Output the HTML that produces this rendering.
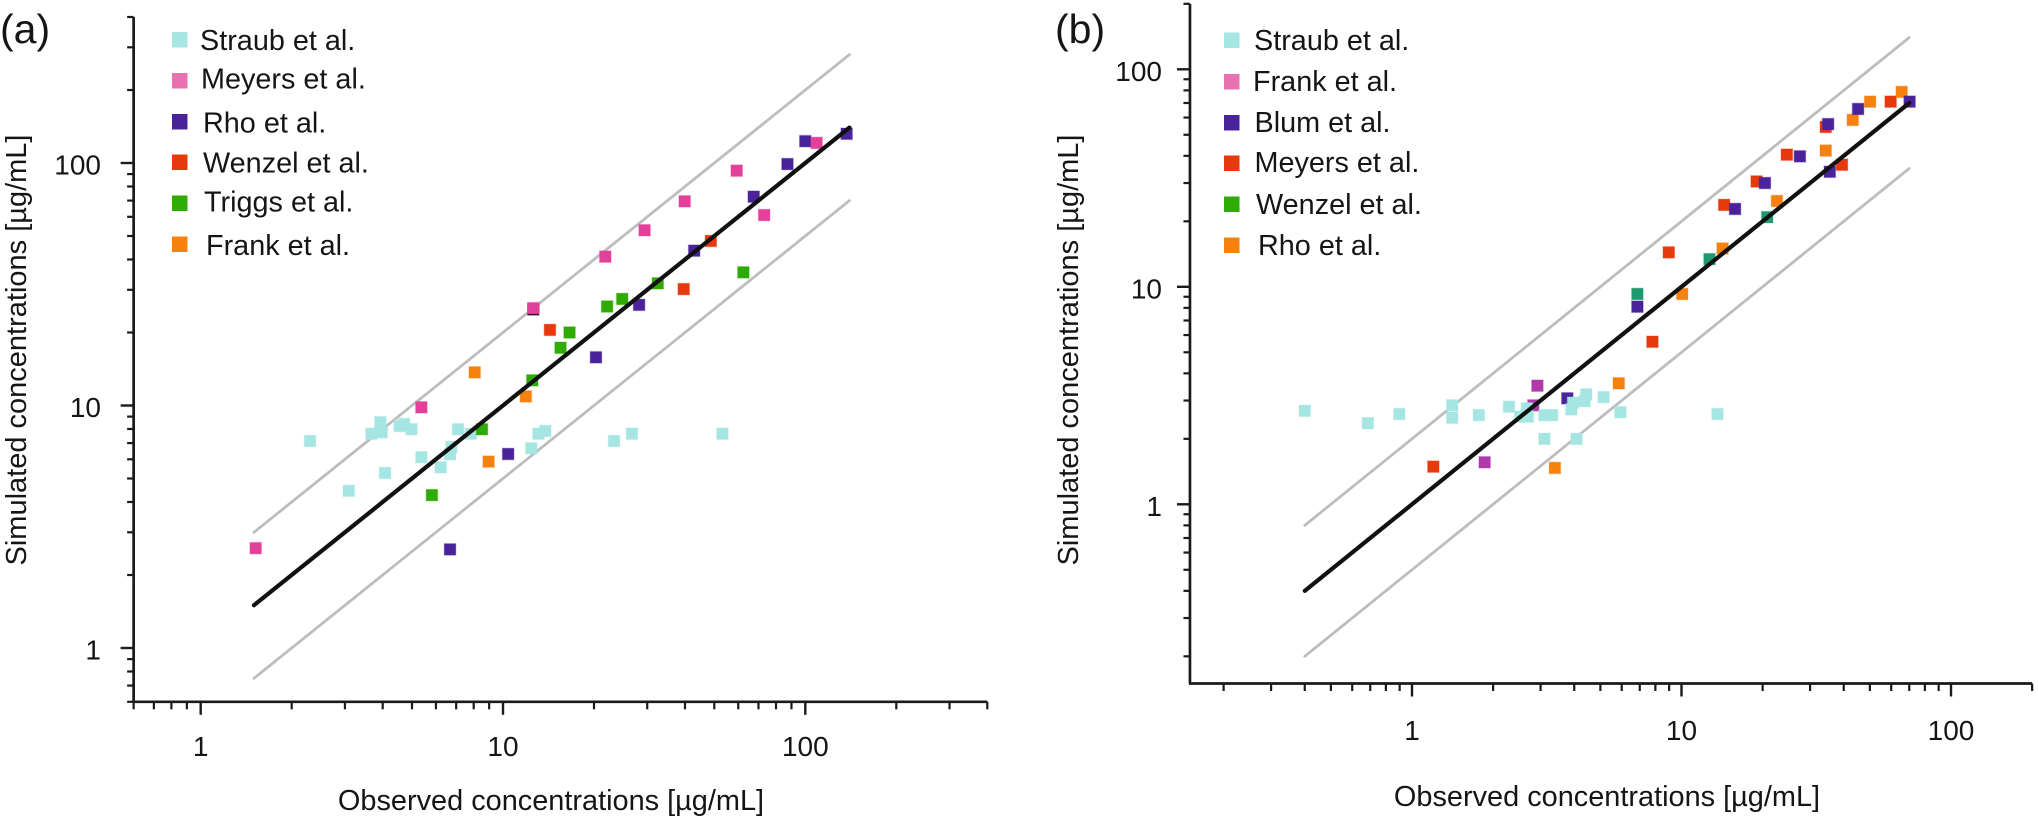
<!DOCTYPE html>
<html lang="en">
<head>
<meta charset="utf-8">
<title>Simulated vs observed concentrations</title>
<style>
html,body{margin:0;padding:0;background:#fff;}
svg{display:block;}
text{font-family:"Liberation Sans",Arial,sans-serif;fill:#151515;}
</style>
</head>
<body>
<svg id="chart" xmlns="http://www.w3.org/2000/svg" width="2038" height="820" viewBox="0 0 2038 820">
  <rect width="2038" height="820" fill="#ffffff"/>
  <g id="panel-a">
    <text x="0" y="43" font-size="41">(a)</text>
    <text x="551" y="810" font-size="28.9" text-anchor="middle">Observed concentrations [µg/mL]</text>
    <text transform="translate(26,350) rotate(-90)" font-size="29" text-anchor="middle">Simulated concentrations [µg/mL]</text>
    <g font-size="28.8">
      <rect x="172" y="32" width="15.5" height="15.5" fill="#a5e6e3"/>
      <text x="200" y="50">Straub et al.</text>
      <rect x="172" y="73" width="15.5" height="15.5" fill="#e871b1"/>
      <text x="201" y="88.5">Meyers et al.</text>
      <rect x="172" y="114" width="15.5" height="15.5" fill="#4a239b"/>
      <text x="203" y="132.5">Rho et al.</text>
      <rect x="172" y="154.5" width="15.5" height="15.5" fill="#e6390e"/>
      <text x="203" y="172.5">Wenzel et al.</text>
      <rect x="172" y="195.5" width="15.5" height="15.5" fill="#2fab05"/>
      <text x="204" y="211.5">Triggs et al.</text>
      <rect x="172" y="236.5" width="15.5" height="15.5" fill="#f5820f"/>
      <text x="206" y="255">Frank et al.</text>
    </g>
  </g>
  <g id="panel-b">
    <text x="1055" y="43" font-size="41">(b)</text>
    <text x="1607" y="806" font-size="28.9" text-anchor="middle">Observed concentrations [µg/mL]</text>
    <text transform="translate(1078,350) rotate(-90)" font-size="29" text-anchor="middle">Simulated concentrations [µg/mL]</text>
    <g font-size="28.8">
      <rect x="1224" y="32.5" width="15.5" height="15.5" fill="#a5e6e3"/>
      <text x="1254" y="50">Straub et al.</text>
      <rect x="1224" y="74" width="15.5" height="15.5" fill="#e871b1"/>
      <text x="1253" y="91">Frank et al.</text>
      <rect x="1224" y="115" width="15.5" height="15.5" fill="#4a239b"/>
      <text x="1254.5" y="132">Blum et al.</text>
      <rect x="1224" y="155.5" width="15.5" height="15.5" fill="#e6390e"/>
      <text x="1254.5" y="172">Meyers et al.</text>
      <rect x="1224" y="196.5" width="15.5" height="15.5" fill="#2fab05"/>
      <text x="1256" y="214">Wenzel et al.</text>
      <rect x="1224" y="237.5" width="15.5" height="15.5" fill="#f5820f"/>
      <text x="1258" y="255">Rho et al.</text>
    </g>
  </g>
</svg>
<script>
// ---- Panel (a) data ----
const aStraubObs = [2.30,3.93,3.97,3.67,4.55,4.71,4.98,7.10,7.83,6.75,6.68,5.37,6.22,4.07,3.09,12.4,13.1,13.8,23.3,26.7,53.2];
const aStraubSim = [7.14,8.53,7.75,7.65,8.23,8.39,7.98,7.98,7.65,6.75,6.29,6.12,5.56,5.27,4.45,6.66,7.65,7.85,7.14,7.65,7.65];
const aHiddenObs = [12.6];
const aHiddenSim = [24.9];
const aMeyersObs = [1.52,5.37,12.6,21.8,29.4,39.9,59.3,73.1,109];
const aMeyersSim = [2.58,9.83,25.2,41.1,52.8,69.5,93,61,121];
const aRhoObs = [6.68,10.4,20.3,28.2,42.9,67.5,87.3,100,137];
const aRhoSim = [2.55,6.31,15.8,26.0,43.5,72.6,99,123,132];
const aWenzelObs = [14.3,39.6,48.7];
const aWenzelSim = [20.5,30.2,47.7];
const aTriggsObs = [5.82,8.52,12.5,15.5,16.6,22.1,24.8,32.5,62.4];
const aTriggsSim = [4.27,7.98,12.7,17.3,20.0,25.6,27.5,31.9,35.4];
const aFrankObs = [8.06,8.96,11.9];
const aFrankSim = [13.7,5.87,10.9];
const aFitObs = [1.5,140];
const aUpperSim = [3,280];
const aFitSim = [1.5,140];
const aLowerSim = [0.75,70];
const aXDomain = [0.6,400];
const aYDomain = [0.6,400];
const aMajorTicks = [1,10,100];
const aMajorLabels = ['1','10','100'];
const aXMinorTicks = [0.6,0.7,0.8,0.9,2,3,4,5,6,7,8,9,20,30,40,50,60,70,80,90,200,300,400];
const aYMinorTicks = [0.6,0.7,0.8,0.9,2,3,4,5,6,7,8,9,20,30,40,50,60,70,80,90,200,300,400];

// ---- Panel (b) data ----
const bStraubObs = [0.40,0.686,0.897,1.41,1.41,1.77,2.29,2.52,2.67,2.69,3.10,3.31,3.10,4.08,3.90,3.96,4.37,4.43,5.14,5.93,13.6];
const bStraubSim = [2.69,2.36,2.60,2.85,2.50,2.57,2.81,2.53,2.76,2.53,2.57,2.57,2.00,2.00,2.73,2.93,2.98,3.20,3.11,2.65,2.60];
const bFrankObs = [2.92,2.82,1.86];
const bFrankSim = [3.51,2.85,1.56];
const bBlumObs = [3.77,6.86,15.8,20.4,27.5,35.5,35.0,45.2,70.2];
const bBlumSim = [3.07,8.10,22.8,30.0,39.8,33.8,56.0,65.7,71.0];
const bMeyersObs = [1.20,7.80,8.97,14.4,19.0,24.6,34.3,39.4,59.7];
const bMeyersSim = [1.49,5.59,14.4,23.8,30.5,40.5,54.3,36.4,71.0];
const bWenzelObs = [6.86,12.7,20.8];
const bWenzelSim = [9.27,13.4,20.9];
const bRhoObs = [3.39,5.85,10.06,14.2,22.6,34.3,43.2,50.1,65.6];
const bRhoSim = [1.47,3.60,9.27,15.0,24.8,42.3,58.5,71.0,78.7];
const bFitObs = [0.4,70];
const bUpperSim = [0.8,140];
const bFitSim = [0.4,70];
const bLowerSim = [0.2,35];
const bXDomain = [0.15,200];
const bYDomain = [0.15,200];
const bMajorTicks = [1,10,100];
const bMajorLabels = ['1','10','100'];
const bXMinorTicks = [0.2,0.3,0.4,0.5,0.6,0.7,0.8,0.9,2,3,4,5,6,7,8,9,20,30,40,50,60,70,80,90,200];
const bYMinorTicks = [0.2,0.3,0.4,0.5,0.6,0.7,0.8,0.9,2,3,4,5,6,7,8,9,20,30,40,50,60,70,80,90,200];

const NS = 'http://www.w3.org/2000/svg';
const AXIS = '#1a1a1a';

function make(parent, tag, props, txt) {
  const el = document.createElementNS(NS, tag);
  for (const k in props) el.setAttribute(k, props[k]);
  if (txt !== undefined) el.textContent = txt;
  parent.appendChild(el);
  return el;
}

function logScale(oneAt, perDecade, sign) {
  return function (v) { return oneAt + sign * perDecade * Math.log10(v); };
}

function drawAxes(group, prefix, sx, sy, xDom, yDom, majors, labels, xMinors, yMinors, xLabelBase, yLabelRight) {
  const xLeft = sx(xDom[0]), xRight = sx(xDom[1]);
  const yBottom = sy(yDom[0]), yTop = sy(yDom[1]);
  const xLine = make(group, 'line', {x1: xLeft - 1, x2: xRight, y1: yBottom, y2: yBottom, stroke: AXIS, 'stroke-width': 2.7});
  
  
  const yLine = make(group, 'line', {x1: xLeft, x2: xLeft, y1: yBottom, y2: yTop, stroke: AXIS, 'stroke-width': 2.7});
  
  

  xMinors.forEach(function (v) {
    const t = make(group, 'line', {x1: sx(v), x2: sx(v), y1: yBottom, y2: yBottom + 7.5, stroke: AXIS, 'stroke-width': 2.2});
    
    
  });
  yMinors.forEach(function (v) {
    const t = make(group, 'line', {x1: xLeft - 6.5, x2: xLeft, y1: sy(v), y2: sy(v), stroke: AXIS, 'stroke-width': 2.2});
    
    
  });
  majors.forEach(function (v, i) {
    const tx = make(group, 'line', {x1: sx(v), x2: sx(v), y1: yBottom, y2: yBottom + 13, stroke: AXIS, 'stroke-width': 2.4});
    
    
    const lx = make(group, 'text', {x: sx(v), y: xLabelBase, 'font-size': 28, 'text-anchor': 'middle'}, labels[i]);
    
    
    const ty = make(group, 'line', {x1: xLeft - 13, x2: xLeft, y1: sy(v), y2: sy(v), stroke: AXIS, 'stroke-width': 2.4});
    
    
    const ly = make(group, 'text', {x: yLabelRight, y: sy(v) + 11.5, 'font-size': 28, 'text-anchor': 'end'}, labels[i]);
    
    
  });
}

function drawLine(group, name, sx, sy, xs, ys, color, width) {
  const l = make(group, 'line', {x1: sx(xs[0]), y1: sy(ys[0]), x2: sx(xs[1]), y2: sy(ys[1]), stroke: color, 'stroke-width': width, 'stroke-linecap': 'round'});
  
  
}

function drawPoints(group, name, sx, sy, xs, ys, color) {
  xs.forEach(function (v, i) {
    const r = make(group, 'rect', {
      x: sx(v) - 5.75, y: sy(ys[i]) - 5.75, width: 11.5, height: 11.5,
      fill: color, stroke: color, 'stroke-opacity': 0.3, 'stroke-width': 1.2
    });
    
    
  });
}

// Panel (a)
const gA = document.getElementById('panel-a');
const ax = logScale(200.7, 302.3, 1);
const ay = logScale(648, 242.5, -1);
drawAxes(gA, 'a', ax, ay, aXDomain, aYDomain, aMajorTicks, aMajorLabels, aXMinorTicks, aYMinorTicks, 756, 101);
drawLine(gA, 'a-upper-bound-line', ax, ay, aFitObs, aUpperSim, '#bdbdbd', 2.8);
drawLine(gA, 'a-lower-bound-line', ax, ay, aFitObs, aLowerSim, '#bdbdbd', 2.8);
drawPoints(gA, 'a-point-straub', ax, ay, aStraubObs, aStraubSim, '#a5e6e3');
drawPoints(gA, 'a-point-overlap', ax, ay, aHiddenObs, aHiddenSim, '#111111');
drawPoints(gA, 'a-point-frank', ax, ay, aFrankObs, aFrankSim, '#f5820f');
drawPoints(gA, 'a-point-triggs', ax, ay, aTriggsObs, aTriggsSim, '#2fab05');
drawPoints(gA, 'a-point-wenzel', ax, ay, aWenzelObs, aWenzelSim, '#e6390e');
drawPoints(gA, 'a-point-rho', ax, ay, aRhoObs, aRhoSim, '#4a239b');
drawPoints(gA, 'a-point-meyers', ax, ay, aMeyersObs, aMeyersSim, '#e3409a');
drawLine(gA, 'a-identity-line', ax, ay, aFitObs, aFitSim, '#111111', 4.2);

// Panel (b)
const gB = document.getElementById('panel-b');
const bx = logScale(1412, 269.5, 1);
const by = logScale(504.3, 217.5, -1);
drawAxes(gB, 'b', bx, by, bXDomain, bYDomain, bMajorTicks, bMajorLabels, bXMinorTicks, bYMinorTicks, 740, 1162);
drawLine(gB, 'b-upper-bound-line', bx, by, bFitObs, bUpperSim, '#bdbdbd', 2.8);
drawLine(gB, 'b-lower-bound-line', bx, by, bFitObs, bLowerSim, '#bdbdbd', 2.8);
drawPoints(gB, 'b-point-frank', bx, by, bFrankObs, bFrankSim, '#b03aa8');
drawPoints(gB, 'b-point-straub', bx, by, bStraubObs.slice(0, 14), bStraubSim.slice(0, 14), '#a5e6e3');
drawPoints(gB, 'b-point-blum', bx, by, bBlumObs.slice(0, 1), bBlumSim.slice(0, 1), '#4a239b');
drawPoints(gB, 'b-point-straub', bx, by, bStraubObs.slice(14), bStraubSim.slice(14), '#a5e6e3');
drawPoints(gB, 'b-point-meyers', bx, by, bMeyersObs, bMeyersSim, '#e6390e');
drawPoints(gB, 'b-point-rho', bx, by, bRhoObs, bRhoSim, '#f5820f');
drawPoints(gB, 'b-point-wenzel', bx, by, bWenzelObs, bWenzelSim, '#1f9a6e');
drawPoints(gB, 'b-point-blum', bx, by, bBlumObs.slice(1), bBlumSim.slice(1), '#4a239b');
drawLine(gB, 'b-identity-line', bx, by, bFitObs, bFitSim, '#111111', 4.2);
</script>
</body>
</html>
